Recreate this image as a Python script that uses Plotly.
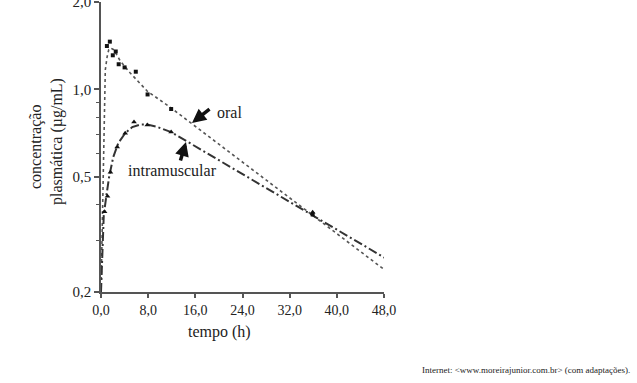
import plotly.graph_objects as go

# ---------------- data ----------------
oral_t = [1.0, 1.5, 2.0, 2.5, 3.0, 4.0, 5.9, 7.9, 11.9, 35.9, 48.2]
oral_v = [1.41, 1.46, 1.31, 1.35, 1.22, 1.19, 1.15, 0.96, 0.855, 0.370, 0.249]

im_t = [0.6, 1.1, 1.6, 2.75, 4.1, 5.6, 7.85, 11.9, 35.9, 48.2]
im_v = [0.378, 0.428, 0.518, 0.632, 0.706, 0.771, 0.753, 0.712, 0.377, 0.261]

oral_curve_t = [0, 0.19, 0.36, 0.52, 0.73, 1.03, 1.32, 1.66, 2.08, 2.59, 3.27, 4.96, 7.84, 11.9, 47.8]
oral_curve_v = [0.2, 0.327, 0.57, 0.848, 1.166, 1.292, 1.372, 1.388, 1.372, 1.324, 1.252, 1.138, 0.986, 0.862, 0.241]

im_curve_t = [0, 0.22, 0.47, 0.9, 1.4, 2.08, 2.93, 4.11, 5.3, 6.65, 7.84, 9.36, 11.9, 16.8, 48.3]
im_curve_v = [0.2, 0.29, 0.368, 0.428, 0.502, 0.584, 0.652, 0.706, 0.741, 0.756, 0.756, 0.744, 0.712, 0.622, 0.261]

x_tickvals = [0, 8, 16, 24, 32, 40, 48]
x_ticktext = ["0,0", "8,0", "16,0", "24,0", "32,0", "40,0", "48,0"]
y_tickvals = [0.2, 0.5, 1.0, 2.0]
y_ticktext = ["0,2", "0,5", "1,0", "2,0"]
y_minorvals = [0.3, 0.4, 0.6, 0.7, 0.8, 0.9]

x_title = "tempo (h)"
y_title_1 = "concentração"
y_title_2 = "plasmática (µg/mL)"
label_oral = "oral"
label_im = "intramuscular"
source = "Internet: &lt;www.moreirajunior.com.br&gt; (com adaptações)."

# ---------------- layout helpers ----------------
W, H = 637, 383
L, T, PW, PH = 101, 2, 283, 290
FONT = "Liberation Serif"


def px(x):
    return (x - L) / PW


def py(y):
    return 1 - (y - T) / PH


fig = go.Figure()

fig.add_trace(go.Scatter(x=oral_curve_t, y=oral_curve_v, mode="lines",
                         line=dict(color="#555555", width=1.6, dash="dot"),
                         cliponaxis=False, showlegend=False))
fig.add_trace(go.Scatter(x=im_curve_t, y=im_curve_v, mode="lines",
                         line=dict(color="#333333", width=2, dash="9px,3px,2px,3px"),
                         cliponaxis=False, showlegend=False))
fig.add_trace(go.Scatter(x=oral_t, y=oral_v, mode="markers",
                         marker=dict(symbol="square", size=4, color="#111111"),
                         cliponaxis=False, showlegend=False))
fig.add_trace(go.Scatter(x=im_t, y=im_v, mode="markers",
                         marker=dict(symbol="triangle-up", size=5, color="#111111"),
                         cliponaxis=False, showlegend=False))

annotations = [
    dict(text=label_oral, x=px(215), y=py(112), xanchor="left", yanchor="middle",
         font=dict(size=16, family=FONT, color="#222222")),
    dict(text=label_im, x=px(126), y=py(170), xanchor="left", yanchor="middle",
         font=dict(size=16, family=FONT, color="#222222")),
    dict(text="", x=px(192), y=py(123), ax=19, ay=-15, showarrow=True,
         arrowhead=2, arrowsize=0.8, arrowwidth=3.5, arrowcolor="#111111", standoff=0),
    dict(text="", x=px(186), y=py(142), ax=-6, ay=20, showarrow=True,
         arrowhead=2, arrowsize=0.8, arrowwidth=3.5, arrowcolor="#111111", standoff=0),
    dict(text=y_title_1, x=px(36), y=py(147), textangle=-90, xanchor="center", yanchor="middle",
         font=dict(size=16, family=FONT, color="#222222")),
    dict(text=y_title_2, x=px(57), y=py(142), textangle=-90, xanchor="center", yanchor="middle",
         font=dict(size=16, family=FONT, color="#222222")),
    dict(text=x_title, x=px(219), y=py(332), xanchor="center", yanchor="middle",
         font=dict(size=16, family=FONT, color="#222222")),
    dict(text=source, x=px(632), y=py(370), xanchor="right", yanchor="middle",
         font=dict(size=9, family=FONT, color="#222222")),
]
for a in annotations:
    a.setdefault("showarrow", False)
    a["xref"] = "paper"
    a["yref"] = "paper"

fig.update_layout(
    width=W, height=H,
    margin=dict(l=L, r=W - L - PW, t=T, b=H - T - PH, pad=0, autoexpand=False),
    paper_bgcolor="white", plot_bgcolor="white",
    font=dict(family=FONT, color="#222222"),
    annotations=annotations,
    xaxis=dict(range=[0, 48], tickmode="array", tickvals=x_tickvals, ticktext=x_ticktext,
               showgrid=False, zeroline=False, showline=True, linecolor="#555555", linewidth=1.5,
               ticks="outside", ticklen=4, tickwidth=1.5, tickcolor="#555555",
               ticklabeloverflow="allow", automargin=False,
               tickfont=dict(size=14, family=FONT, color="#222222")),
    yaxis=dict(type="log", range=[-0.69897, 0.30103], tickmode="array",
               tickvals=y_tickvals, ticktext=y_ticktext,
               showgrid=False, zeroline=False, showline=True, linecolor="#555555", linewidth=1.5,
               ticks="outside", ticklen=5, tickwidth=1.5, tickcolor="#555555",
               ticklabeloverflow="allow", automargin=False,
               tickfont=dict(size=15, family=FONT, color="#222222"),
               minor=dict(tickmode="array", tickvals=y_minorvals, ticks="outside", ticklen=3,
                          tickwidth=1.2, tickcolor="#555555", showgrid=False)),
)

post = (
    "document.body.style.margin='0';"
    "document.body.style.padding='0';"
    "document.body.style.overflow='hidden';"
    "var d=document.getElementById('{plot_id}');"
    "d.style.position='absolute';d.style.top='0px';d.style.left='0px';"
)
fig.write_html("out.html", config={"displayModeBar": False}, post_script=post)
